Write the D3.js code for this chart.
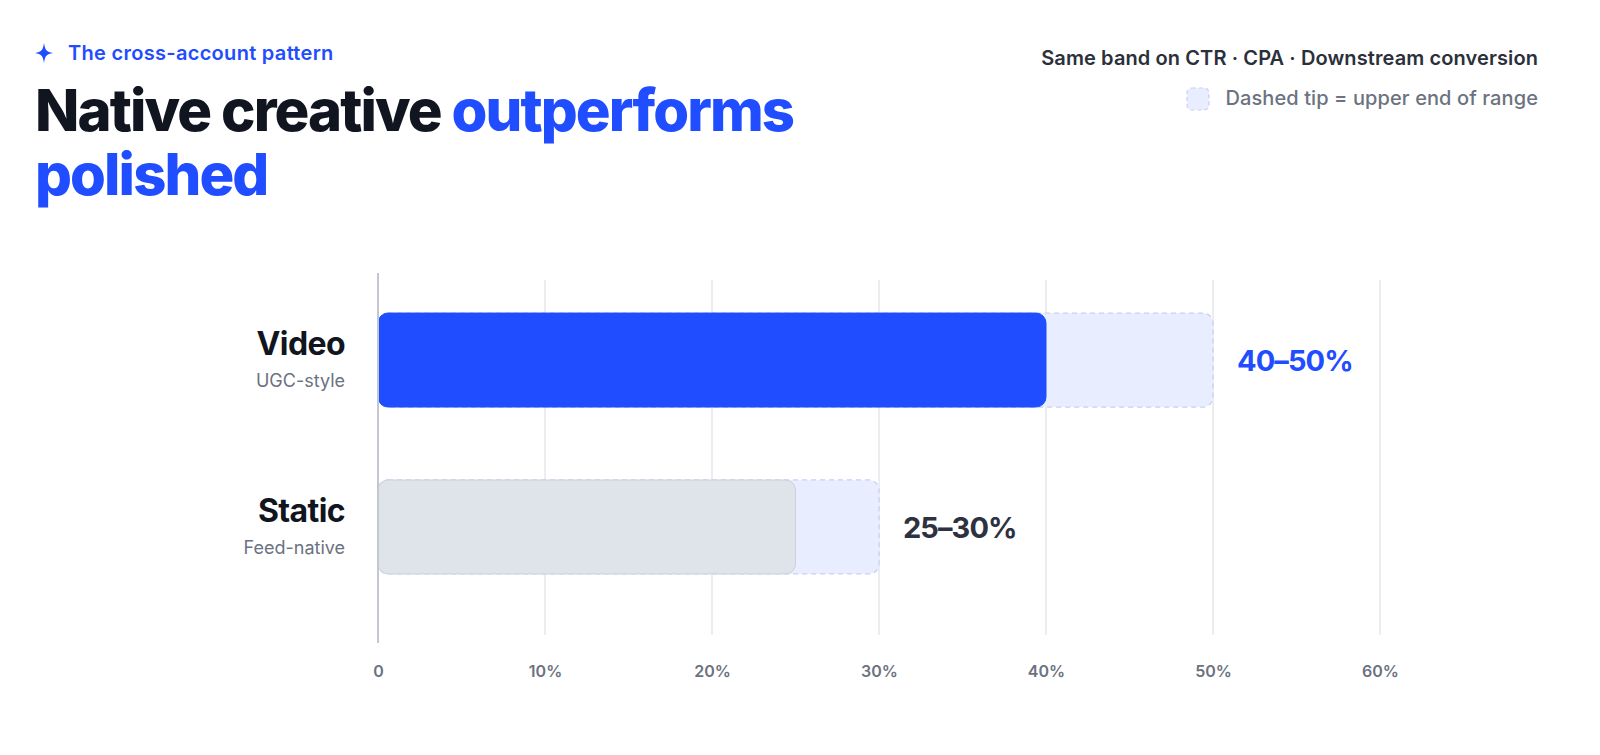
<!DOCTYPE html>
<html>
<head>
<meta charset="utf-8">
<script src="https://cdn.jsdelivr.net/npm/d3@7"></script>
<style>
  html, body { margin: 0; padding: 0; background: #ffffff; }
  svg { display: block; font-family: "Inter", "Noto Sans", sans-serif; }
</style>
</head>
<body>
<svg id="chart" width="1600" height="755"></svg>
<script>
// ---- data ----
const categories = ["Video", "Static"];
const subLabels = ["UGC-style", "Feed-native"];
const lowValues = [40, 25];
const highValues = [50, 30];
const rangeLabels = ["40–50%", "25–30%"];
const tickValues = [0, 10, 20, 30, 40, 50, 60];
const tickLabels = ["0", "10%", "20%", "30%", "40%", "50%", "60%"];

const BLUE = "#1f4dff";
const svg = d3.select("#chart");

// ---- header ----
const star = "M0,-10 C1.2,-2.5 2.5,-1.2 9,0 C2.5,1.2 1.2,2.5 0,10 C-1.2,2.5 -2.5,1.2 -9,0 C-2.5,-1.2 -1.2,-2.5 0,-10 Z";
svg.append("path").attr("d", star).attr("transform", "translate(44,53)").attr("fill", BLUE);
svg.append("text").attr("x", 68).attr("y", 60)
  .attr("font-size", 20).attr("font-weight", 600).attr("fill", BLUE)
  .attr("letter-spacing", "0.3")
  .text("The cross-account pattern");

const title = svg.append("text").attr("x", 35).attr("y", 131)
  .attr("font-size", 58).attr("font-weight", 800).attr("letter-spacing", "-1.9");
title.append("tspan").attr("fill", "#111520").text("Native creative ");
title.append("tspan").attr("fill", BLUE).text("outperforms");
svg.append("text").attr("x", 35).attr("y", 195)
  .attr("font-size", 58).attr("font-weight", 800).attr("letter-spacing", "-1.9")
  .attr("fill", BLUE).text("polished");

svg.append("text").attr("x", 1538).attr("y", 65).attr("text-anchor", "end")
  .attr("font-size", 20).attr("font-weight", 600).attr("fill", "#2b303b")
  .attr("letter-spacing", "0.1")
  .text("Same band on CTR · CPA · Downstream conversion");
svg.append("text").attr("x", 1538).attr("y", 105).attr("text-anchor", "end")
  .attr("font-size", 20).attr("font-weight", 500).attr("fill", "#6b7280")
  .attr("letter-spacing", "0.1")
  .text("Dashed tip = upper end of range");
svg.append("rect").attr("x", 1187).attr("y", 88).attr("width", 22).attr("height", 22)
  .attr("rx", 5).attr("fill", "#e8eeff").attr("stroke", "#c9d0f2")
  .attr("stroke-dasharray", "4,3").attr("stroke-width", 1.2);

// ---- scales ----
const x = d3.scaleLinear().domain([0, 60]).range([378, 1380]);
const y = d3.scaleBand().domain(categories).range([280, 607])
  .paddingInner(0.437).paddingOuter(0.198);

// grid
svg.append("g").selectAll("line").data(tickValues.slice(1)).join("line")
  .attr("x1", d => x(d)).attr("x2", d => x(d))
  .attr("y1", 280).attr("y2", 635)
  .attr("stroke", "#e5e7eb").attr("stroke-width", 1.5);

// axis tick labels via d3 axis
const axis = d3.axisBottom(x).tickValues(tickValues)
  .tickFormat((d, i) => tickLabels[i]).tickSize(0).tickPadding(0);
const ax = svg.append("g").attr("transform", "translate(0,666)").call(axis);
ax.select(".domain").remove();
ax.selectAll("text").attr("font-family", "Inter, sans-serif").attr("font-size", 16)
  .attr("font-weight", 600).attr("fill", "#6b7280");

// bars
const rows = categories.map((c, i) => ({ c, sub: subLabels[i], lo: lowValues[i], hi: highValues[i], lab: rangeLabels[i], i }));
const g = svg.append("g");
// tips
g.selectAll("rect.tip").data(rows).join("rect").attr("class", "tip")
  .attr("x", d => x(0)).attr("y", d => y(d.c))
  .attr("width", d => x(d.hi) - x(0)).attr("height", y.bandwidth())
  .attr("rx", 10).attr("fill", "#e8eeff").attr("stroke", "#c9d0f2")
  .attr("stroke-width", 1.3).attr("stroke-dasharray", "5,4");
// main
g.selectAll("rect.main").data(rows).join("rect").attr("class", "main")
  .attr("x", d => x(0)).attr("y", d => y(d.c))
  .attr("width", d => x(d.lo) - x(0)).attr("height", y.bandwidth())
  .attr("rx", 10)
  .attr("fill", d => d.i === 0 ? BLUE : "#dfe3ea")
  .attr("stroke", d => d.i === 0 ? BLUE : "#ccd1da")
  .attr("stroke-width", 1);

// value labels
g.selectAll("text.val").data(rows).join("text").attr("class", "val")
  .attr("x", d => x(d.hi) + 24).attr("y", d => y(d.c) + y.bandwidth() / 2 + 11)
  .attr("font-size", 29).attr("font-weight", 700).attr("letter-spacing", "-0.9")
  .attr("fill", d => d.i === 0 ? BLUE : "#2d3140")
  .text(d => d.lab);

// category labels
g.selectAll("text.cat").data(rows).join("text").attr("class", "cat")
  .attr("x", 345).attr("y", d => y(d.c) + y.bandwidth() / 2 - 5)
  .attr("text-anchor", "end").attr("font-size", 32).attr("font-weight", 700)
  .attr("letter-spacing", "-0.6").attr("fill", "#111520").text(d => d.c);
g.selectAll("text.sub").data(rows).join("text").attr("class", "sub")
  .attr("x", 345).attr("y", d => y(d.c) + y.bandwidth() / 2 + 27)
  .attr("text-anchor", "end").attr("font-size", 18).attr("font-weight", 400)
  .attr("fill", "#6b7280").text(d => d.sub);

// zero axis line
svg.append("line").attr("x1", x(0)).attr("x2", x(0)).attr("y1", 273).attr("y2", 643)
  .attr("stroke", "#c3c7d3").attr("stroke-width", 2);
</script>
</body>
</html>
